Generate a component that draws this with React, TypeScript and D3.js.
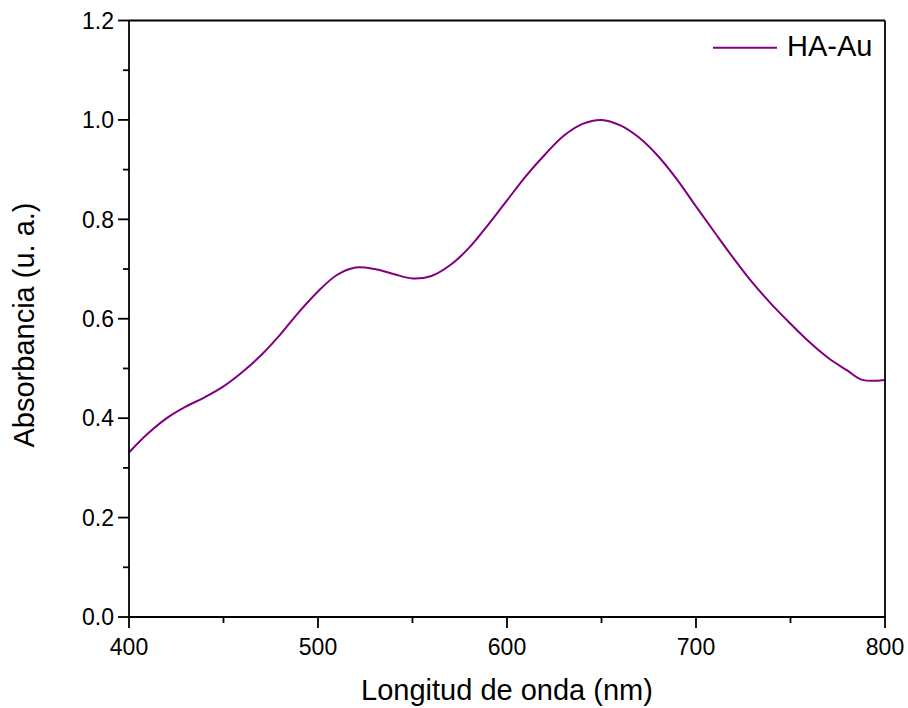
import React from "react";
import * as d3 from "d3";

const wavelengths = [400, 410, 420, 430, 440, 450, 460, 470, 480, 490, 500, 510, 520, 530, 540, 550, 560, 570, 580, 590, 600, 610, 620, 630, 640, 650, 660, 670, 680, 690, 700, 710, 720, 730, 740, 750, 760, 770, 780, 788, 800];
const absorbance = [0.331, 0.369, 0.400, 0.423, 0.442, 0.464, 0.493, 0.527, 0.568, 0.614, 0.655, 0.688, 0.703, 0.700, 0.690, 0.681, 0.686, 0.708, 0.743, 0.789, 0.838, 0.887, 0.930, 0.968, 0.992, 1.0, 0.989, 0.964, 0.927, 0.880, 0.826, 0.773, 0.721, 0.672, 0.629, 0.590, 0.553, 0.521, 0.496, 0.477, 0.477];
const xTicks = [400, 500, 600, 700, 800];
const xMinor = [450, 550, 650, 750];
const yTicks = [0, 0.2, 0.4, 0.6, 0.8, 1.0, 1.2];
const yMinor = [0.1, 0.3, 0.5, 0.7, 0.9, 1.1];
const seriesName = "HA-Au";
const xTitle = "Longitud de onda (nm)";
const yTitle = "Absorbancia (u. a.)";

export default function App() {
  const W = 908, H = 708;
  const left = 129, right = 885, top = 20.5, bottom = 617;
  const x = d3.scaleLinear().domain([400, 800]).range([left, right]);
  const y = d3.scaleLinear().domain([0, 1.2]).range([bottom, top]);
  const pts = wavelengths.map((w, i) => [w, absorbance[i]] as [number, number]);
  const line = d3.line<[number, number]>().x(d => x(d[0])).y(d => y(d[1])).curve(d3.curveCatmullRom.alpha(0.5));
  const font = "Arial, 'Liberation Sans', sans-serif";
  const sw = 1.8;
  return (
    <svg width={W} height={H} style={{ position: "absolute", left: 0, top: 0, background: "#fff" }}>
      <rect x={0} y={0} width={W} height={H} fill="#fff" />
      <path d={line(pts) || ""} fill="none" stroke="#800080" strokeWidth={2} />
      <line x1={left} x2={right} y1={top} y2={top} stroke="#000" strokeWidth={sw} />
      <line x1={right} x2={right} y1={top} y2={bottom} stroke="#000" strokeWidth={sw} />
      <line x1={left} x2={left} y1={top} y2={bottom} stroke="#000" strokeWidth={sw} />
      <line x1={left} x2={right} y1={bottom} y2={bottom} stroke="#000" strokeWidth={sw} />
      {xTicks.map(t => (
        <g key={"xt" + t}>
          <line x1={x(t)} x2={x(t)} y1={bottom} y2={bottom + 11} stroke="#000" strokeWidth={sw} />
          <text x={x(t)} y={655} textAnchor="middle" fontFamily={font} fontSize={23}>{t}</text>
        </g>
      ))}
      {xMinor.map(t => (
        <line key={"xm" + t} x1={x(t)} x2={x(t)} y1={bottom} y2={bottom + 6} stroke="#000" strokeWidth={sw} />
      ))}
      {yTicks.map(t => (
        <g key={"yt" + t}>
          <line x1={left - 11} x2={left} y1={y(t)} y2={y(t)} stroke="#000" strokeWidth={sw} />
          <text x={114} y={y(t) + 8.3} textAnchor="end" fontFamily={font} fontSize={23}>{t.toFixed(1)}</text>
        </g>
      ))}
      {yMinor.map(t => (
        <line key={"ym" + t} x1={left - 6} x2={left} y1={y(t)} y2={y(t)} stroke="#000" strokeWidth={sw} />
      ))}
      <text x={(left + right) / 2} y={700} textAnchor="middle" fontFamily={font} fontSize={29}>{xTitle}</text>
      <text transform={`translate(34, 325) rotate(-90)`} textAnchor="middle" fontFamily={font} fontSize={29}>{yTitle}</text>
      <line x1={713} x2={777} y1={47.7} y2={47.7} stroke="#800080" strokeWidth={2} />
      <text x={787} y={56} fontFamily={font} fontSize={29}>{seriesName}</text>
    </svg>
  );
}
